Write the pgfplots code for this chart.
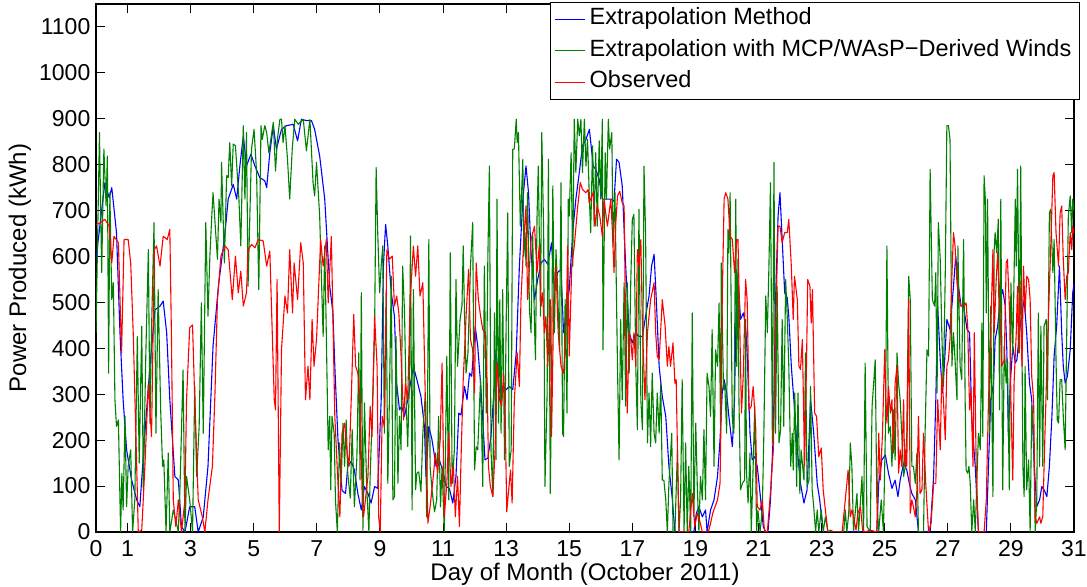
\documentclass[border=0pt]{standalone}
\usepackage{fontspec}
\setmainfont{Liberation Sans}
\usepackage{pgfplots}
\pgfplotsset{compat=1.18}
\usetikzlibrary{calc}
\definecolor{mgreen}{rgb}{0,0.5,0}

\begin{document}
\fontsize{11.5}{13.8}\selectfont
\begin{tikzpicture}
\begin{axis}[
  scale only axis, width=489pt, height=264pt,
  xmin=0, xmax=31, ymin=0, ymax=1150,
  xtick={0,1,3,...,31}, ytick={0,100,...,1100},
  scaled y ticks=false,
  /pgf/number format/1000 sep={},
  /pgf/number format/assume math mode=true,
  tick align=inside, major tick length=4.5pt,
  tick style={black, line width=0.5pt},
  axis line style={line width=0.6pt},
  ticklabel style={font=\fontsize{11.5}{13.8}\selectfont},
  label style={font=\fontsize{12}{14.4}\selectfont},
  xlabel={Day of Month (October 2011)},
  ylabel={Power Produced (kWh)},
  xlabel style={at={(axis description cs:0.5,-0.0795)}, anchor=center, inner sep=0pt},
  ylabel style={at={(axis description cs:-0.0777,0.5)}, anchor=center},
  yticklabel style={xshift=1.2pt},
  xticklabel style={inner sep=0pt, yshift=-4pt},
  legend cell align=left,
  legend style={at={(axis description cs:1.006,1.004)}, anchor=north east,
    draw=black, line width=0.5pt, fill=white, inner xsep=2pt, inner ysep=1.3pt,
    row sep=1.6pt, font=\fontsize{11.75}{14}\selectfont,
    nodes={text height=7.8pt, text depth=2.4pt, inner ysep=2pt, inner xsep=2pt}},
  legend image code/.code={\draw[#1] (0pt,0pt) -- (15pt,0pt);},
  every axis plot/.append style={line width=0.55pt, line join=round},
]
\addplot[blue] coordinates {
(0,594)(0.28,760)(0.42,728)(0.5,750)(0.65,652)(0.76,434)(0.86,288)(0.97,179)(1.13,113)(1.29,70)(1.39,55)(1.55,215)(1.71,361)(1.87,484)(2.03,492)(2.13,503)(2.24,434)(2.34,288)(2.5,121)(2.61,113)(2.71,12)(2.82,0)(2.97,55)(3.13,55)(3.24,0)(3.4,33)(3.55,143)(3.71,405)
(3.88,535)(4.09,652)(4.19,725)(4.35,757)(4.46,725)(4.56,797)(4.67,863)(4.77,797)(4.91,823)(5.04,797)(5.19,772)(5.35,765)(5.41,750)(5.51,826)(5.62,885)(5.72,834)(5.88,877)(6.04,885)(6.25,888)(6.39,852)(6.51,899)(6.67,896)(6.83,896)(6.93,877)(7.09,819)(7.25,725)(7.41,535)(7.51,477)(7.57,361)(7.67,201)
(7.8,90)(7.91,84)(7.98,143)(8.09,154)(8.19,135)(8.3,84)(8.41,48)(8.51,99)(8.62,84)(8.72,63)(8.83,99)(8.93,95)(9.04,288)(9.11,579)(9.18,670)(9.25,623)(9.36,521)(9.46,470)(9.53,324)(9.62,266)(9.69,274)(9.78,252)(9.88,288)(9.99,332)(10.06,361)(10.17,332)(10.3,295)(10.41,230)(10.46,121)(10.55,230)(10.65,201)(10.78,143)(10.88,157)(10.99,135)(11.1,99)(11.2,95)(11.31,63)(11.41,121)(11.5,259)(11.57,255)(11.68,317)
(11.76,288)(11.84,346)(11.91,339)(12.02,448)(12.1,404)(12.19,324)(12.26,244)(12.33,157)(12.42,161)(12.52,208)(12.63,324)(12.68,397)(12.79,303)(12.89,317)(13.0,310)(13.1,317)(13.21,310)(13.32,390)(13.42,579)(13.53,725)(13.63,797)(13.71,739)(13.79,608)(13.9,506)(14.0,550)(14.11,586)(14.21,594)(14.32,583)(14.44,630)(14.53,528)(14.63,565)(14.74,572)(14.82,434)(14.9,477)(15.0,528)(15.11,652)(15.21,725)(15.32,783)(15.42,841)(15.53,855)(15.64,877)
(15.76,797)(15.84,790)(15.95,768)(16.05,725)(16.21,725)(16.32,725)(16.42,720)(16.5,812)(16.58,805)(16.68,754)(16.79,579)(16.9,434)(17.0,412)(17.11,434)(17.21,426)(17.32,426)(17.42,470)(17.53,514)(17.61,579)(17.69,605)(17.76,506)(17.85,361)(17.95,295)(18.06,252)(18.16,143)(18.27,70)(18.35,0)(18.95,0)(19.03,41)(19.11,55)(19.22,33)(19.32,48)(19.37,0)(19.48,48)(19.59,70)
(19.7,121)(19.78,201)(19.85,303)(19.91,332)(19.99,303)(20.06,252)(20.17,186)(20.24,288)(20.31,565)(20.38,521)(20.43,463)(20.52,477)(20.59,448)(20.64,390)(20.73,215)(20.8,157)(20.88,164)(20.96,143)(21.07,70)(21.15,12)(21.23,0)(21.3,0)(21.38,70)(21.47,215)(21.54,506)(21.62,688)(21.68,739)(21.75,637)(21.83,521)(21.91,510)(21.96,470)(22.04,361)(22.12,288)(22.23,179)(22.33,106)(22.44,63)(22.54,92)(22.65,288)(22.75,215)(22.86,106)(22.94,70)(23.02,19)(23.07,0)
(24.75,0)(24.81,106)(24.91,157)(25.02,168)(25.12,128)(25.23,95)(25.33,113)(25.42,77)(25.49,113)(25.6,150)(25.7,135)(25.78,106)(25.86,84)(25.97,70)(26.07,0)(26.44,0)(26.55,121)(26.62,288)(26.68,492)(26.76,375)(26.83,303)(26.89,361)(26.97,463)(27.07,441)(27.18,535)(27.25,601)(27.34,535)(27.42,492)(27.5,492)
(27.61,441)(27.69,434)(27.76,244)(27.87,143)(27.97,0)(28.22,0)(28.29,143)(28.36,288)(28.45,324)(28.5,419)(28.58,448)(28.66,506)(28.74,528)(28.82,492)(28.87,397)(28.92,208)(28.98,324)(29.06,404)(29.14,368)(29.19,375)(29.27,434)(29.35,477)(29.42,506)(29.5,434)(29.59,324)(29.66,288)(29.74,143)(29.82,55)(29.91,70)(29.98,99)(30.05,92)(30.14,77)(30.22,143)(30.3,252)(30.37,383)(30.45,448)(30.54,579)(30.61,434)(30.66,361)(30.72,324)(30.79,339)(30.88,397)(30.96,521)(31,540)
};
\addlegendentry{Extrapolation Method}
\addplot[mgreen] coordinates {
(0,434)(0.11,870)(0.18,565)(0.25,834)(0.32,710)(0.36,819)(0.4,346)(0.44,739)(0.5,506)(0.55,543)(0.6,288)(0.65,230)(0.71,244)(0.78,0)(0.82,128)(0.86,48)(0.92,252)(0.97,55)(1.02,143)(1.1,179)(1.16,0)(1.23,70)(1.31,426)(1.37,150)(1.45,448)(1.5,92)(1.58,390)(1.66,615)(1.71,237)(1.76,441)(1.84,674)(1.9,215)(1.97,528)(2.05,266)(2.11,143)(2.15,157)(2.22,0)(2.29,172)(2.34,0)(2.45,48)(2.53,26)(2.61,0)(2.66,92)(2.76,353)(2.82,0)(2.87,121)(2.97,70)(3.06,0)(3.13,317)(3.19,121)(3.27,230)(3.34,499)(3.4,215)(3.48,674)(3.55,470)(3.61,601)(3.66,674)(3.71,739)
(3.85,594)(3.9,725)(3.96,674)(3.98,805)(4.07,586)(4.14,776)(4.19,772)(4.24,848)(4.3,754)(4.35,845)(4.42,841)(4.53,725)(4.59,623)(4.67,885)(4.72,725)(4.77,870)(4.82,535)(4.93,834)(5.01,877)(5.09,783)(5.16,528)(5.23,885)(5.27,855)(5.35,885)(5.41,870)(5.48,826)(5.54,855)(5.62,892)(5.69,786)(5.75,855)(5.83,899)(5.88,899)(5.93,848)(5.99,885)(6.07,812)(6.14,725)(6.22,834)(6.3,899)(6.41,888)(6.57,899)(6.67,830)(6.78,899)(6.88,761)(6.93,732)(6.99,805)(7.09,688)(7.15,543)(7.2,426)(7.25,623)(7.3,434)(7.36,179)(7.41,252)(7.44,92)(7.48,252)(7.55,215)(7.59,70)(7.65,0)
(7.72,194)(7.77,106)(7.83,237)(7.88,143)(7.93,244)(7.98,128)(8.06,74)(8.12,223)(8.19,55)(8.27,164)(8.33,390)(8.37,113)(8.41,521)(8.46,0)(8.51,281)(8.58,99)(8.65,0)(8.69,121)(8.75,244)(8.83,434)(8.88,794)(8.93,652)(8.99,521)(9.04,579)(9.09,623)(9.14,215)(9.2,521)(9.25,106)(9.3,288)(9.36,557)(9.41,70)(9.46,77)(9.51,426)(9.57,106)(9.62,252)(9.67,179)(9.72,579)(9.78,477)(9.83,288)(9.88,186)(9.93,317)(9.97,645)(10.02,48)(10.06,528)(10.13,92)(10.17,128)(10.23,131)(10.3,88)(10.36,215)(10.44,303)(10.48,33)(10.55,637)(10.59,143)(10.65,92)(10.73,44)(10.8,70)(10.86,252)(10.92,55)(10.97,143)(11.04,0)(11.12,383)(11.18,70)(11.23,608)(11.29,106)(11.36,179)(11.41,550)(11.46,361)(11.54,463)(11.6,492)(11.64,623)
(11.68,477)(11.73,346)(11.79,390)(11.87,579)(11.94,674)(12.0,135)(12.05,186)(12.1,179)(12.15,266)(12.19,332)(12.26,99)(12.31,579)(12.37,259)(12.42,594)(12.47,797)(12.52,179)(12.58,77)(12.63,477)(12.68,157)(12.71,725)(12.76,237)(12.8,506)(12.84,215)(12.89,528)(12.95,157)(13.0,448)(13.05,695)(13.1,143)(13.16,179)(13.21,834)(13.26,834)(13.32,899)(13.35,848)(13.39,870)(13.45,666)(13.53,812)(13.56,601)(13.6,652)(13.63,579)(13.68,739)(13.74,484)(13.79,434)(13.84,652)(13.9,448)(13.93,375)(13.98,688)(14.02,797)(14.09,470)(14.13,870)(14.19,652)(14.23,99)(14.3,303)(14.34,812)(14.4,84)(14.44,324)(14.48,754)(14.53,434)(14.58,615)(14.63,535)(14.69,397)(14.74,761)(14.79,215)(14.82,208)(14.87,506)(14.93,259)(14.97,725)(15.0,688)(15.06,826)(15.11,579)(15.16,899)(15.21,783)(15.27,899)(15.32,863)(15.37,899)(15.42,783)(15.48,899)(15.53,797)(15.58,855)(15.64,725)
(15.68,652)(15.74,841)(15.79,666)(15.84,826)(15.89,666)(15.95,852)(16.0,725)(16.05,899)(16.07,397)(16.14,826)(16.18,725)(16.24,899)(16.28,834)(16.35,870)(16.39,623)(16.45,739)(16.53,361)(16.58,157)(16.63,463)(16.68,288)(16.74,543)(16.79,274)(16.84,543)(16.9,346)(16.95,543)(17.0,681)(17.05,692)(17.11,361)(17.16,223)(17.21,703)(17.27,288)(17.32,223)(17.37,797)(17.42,652)(17.48,194)(17.53,303)(17.58,186)(17.63,346)(17.69,215)(17.74,194)(17.79,303)(17.85,215)(17.9,324)(17.95,113)(18.0,113)(18.06,70)(18.11,0)(18.16,106)(18.25,215)(18.29,0)(18.35,0)(18.43,179)(18.48,0)(18.53,70)(18.58,332)(18.64,0)(18.69,194)(18.74,0)(18.79,143)(18.85,0)(18.9,477)(18.95,33)(19.01,237)(19.06,99)(19.11,0)(19.16,121)(19.22,70)(19.27,223)(19.32,70)(19.37,346)(19.43,317)(19.48,252)(19.53,441)(19.59,143)
(19.64,397)(19.7,361)(19.75,499)(19.8,215)(19.82,586)(19.89,310)(19.93,324)(19.99,215)(20.03,659)(20.06,608)(20.1,739)(20.14,434)(20.17,244)(20.22,215)(20.28,725)(20.31,361)(20.35,594)(20.38,288)(20.43,92)(20.49,106)(20.56,113)(20.59,463)(20.62,128)(20.67,63)(20.73,172)(20.77,0)(20.83,143)(20.88,274)(20.94,0)(20.98,48)(21.05,0)(21.12,48)(21.17,215)(21.23,514)(21.28,434)(21.33,579)(21.38,761)(21.44,194)(21.49,805)(21.54,215)(21.59,535)(21.65,194)(21.7,223)(21.75,463)(21.8,230)(21.86,550)(21.91,470)(21.96,361)(22.02,143)(22.07,215)(22.1,135)(22.15,303)(22.21,99)(22.25,303)(22.31,84)(22.35,179)(22.44,113)(22.49,390)(22.54,99)(22.6,113)(22.65,317)(22.7,92)(22.75,55)(22.81,0)(22.86,48)(22.91,0)(22.99,48)(23.05,0)(23.12,33)(23.2,0)(23.28,4)(23.39,0)(23.7,0)
(23.75,48)(23.8,0)(23.86,41)(23.91,194)(23.96,143)(24.01,0)(24.12,84)(24.17,0)(24.28,121)(24.33,0)(24.38,368)(24.44,12)(24.54,0)(24.6,274)(24.7,375)(24.75,70)(24.81,0)(24.89,70)(24.96,0)(25.02,215)(25.07,623)(25.12,215)(25.18,230)(25.23,143)(25.28,266)(25.33,157)(25.39,390)(25.44,324)(25.49,288)(25.54,215)(25.6,121)(25.65,143)(25.7,215)(25.76,557)(25.81,506)(25.86,143)(25.91,143)(25.97,106)(26.02,172)(26.07,0)(26.23,0)(26.28,215)(26.34,397)(26.39,383)(26.44,790)(26.51,506)(26.58,492)(26.62,565)(26.66,303)(26.7,674)(26.76,594)(26.81,434)(26.86,317)(26.92,565)(26.97,885)(27.02,885)(27.07,855)(27.13,361)(27.18,434)(27.23,375)(27.29,288)(27.32,623)(27.39,361)(27.44,332)
(27.5,637)(27.55,288)(27.58,135)(27.63,128)(27.67,143)(27.71,106)(27.76,0)(27.82,70)(27.87,0)(27.97,215)(28.03,179)(28.08,455)(28.11,208)(28.15,776)(28.19,725)(28.22,477)(28.26,725)(28.32,215)(28.36,492)(28.43,77)(28.47,615)(28.5,652)(28.55,608)(28.6,681)(28.64,266)(28.68,725)(28.74,92)(28.79,404)(28.85,324)(28.89,375)(28.95,92)(29.0,543)(29.06,390)(29.14,725)(29.17,579)(29.21,790)(29.27,390)(29.31,797)(29.38,143)(29.42,77)(29.45,361)(29.5,92)(29.56,157)(29.61,0)(29.66,274)(29.72,215)(29.77,0)(29.82,70)(29.87,477)(29.91,143)(29.95,448)(30.01,143)(30.05,448)(30.12,463)(30.16,288)(30.22,695)(30.26,703)(30.33,565)(30.37,637)(30.43,375)(30.47,244)(30.51,237)(30.56,332)(30.61,332)(30.66,252)(30.72,179)(30.77,434)(30.82,688)(30.88,732)(30.93,652)(30.96,725)(31,700)
};
\addlegendentry{Extrapolation with MCP/WAsP−Derived Winds}
\addplot[red] coordinates {
(0,670)(0.13,673)(0.28,681)(0.42,666)(0.5,586)(0.57,644)(0.71,630)(0.81,390)(0.89,637)(1.02,637)(1.1,586)(1.18,434)(1.29,143)(1.34,0)(1.45,4)(1.55,143)(1.66,324)(1.76,208)(1.85,615)(1.92,623)(2.03,579)(2.13,644)(2.26,637)(2.34,659)(2.39,434)(2.45,70)(2.53,12)(2.61,70)(2.71,0)(2.82,70)(2.87,288)(2.97,445)(3.06,451)(3.13,288)(3.24,70)(3.37,33)(3.45,0)(3.55,70)(3.69,143)(3.77,300)
(3.85,506)(3.96,601)(4.09,623)(4.19,615)(4.32,506)(4.42,601)(4.51,521)(4.59,568)(4.67,492)(4.77,521)(4.82,615)(4.93,626)(5.04,619)(5.14,637)(5.3,634)(5.41,579)(5.51,612)(5.65,288)(5.69,266)(5.74,550)(5.81,0)(5.88,397)(5.99,514)(6.07,477)(6.14,615)(6.23,477)(6.28,586)(6.39,506)(6.49,630)(6.57,586)(6.64,288)(6.72,361)(6.78,288)(6.85,463)(6.91,361)(6.99,419)(7.12,637)(7.2,579)(7.3,637)(7.36,499)(7.46,644)(7.57,252)(7.67,106)(7.73,33)
(7.8,215)(7.88,237)(7.95,179)(8.02,143)(8.09,288)(8.17,474)(8.23,361)(8.3,346)(8.37,288)(8.44,70)(8.48,33)(8.54,70)(8.62,121)(8.69,274)(8.75,208)(8.83,470)(8.91,361)(8.96,33)(9.01,0)(9.07,252)(9.14,230)(9.22,615)(9.3,594)(9.39,601)(9.46,492)(9.53,514)(9.6,477)(9.67,383)(9.75,244)(9.81,324)(9.88,288)(9.96,506)(10.06,623)(10.13,557)(10.2,623)(10.27,514)(10.36,543)(10.44,288)(10.52,19)(10.59,55)(10.67,106)(10.76,172)(10.83,128)(10.91,201)(10.97,368)(11.04,33)(11.12,106)(11.18,215)(11.25,99)(11.33,143)(11.39,33)(11.46,121)(11.52,12)(11.57,157)(11.64,332)
(11.68,390)(11.73,470)(11.81,572)(11.87,419)(11.94,397)(12.0,303)(12.05,586)(12.12,506)(12.19,470)(12.26,441)(12.33,434)(12.4,324)(12.44,143)(12.5,99)(12.58,77)(12.65,179)(12.71,368)(12.79,288)(12.86,274)(12.92,346)(12.97,252)(13.02,44)(13.07,84)(13.14,135)(13.19,63)(13.26,288)(13.35,390)(13.42,317)(13.47,506)(13.56,637)(13.63,710)(13.68,506)(13.79,637)(13.9,666)(13.98,565)(14.05,623)(14.11,492)(14.16,521)(14.21,434)(14.26,470)(14.32,361)(14.4,506)(14.44,208)(14.51,506)(14.58,579)(14.65,434)(14.74,361)(14.82,346)(14.9,434)(14.95,623)(15.0,383)(15.08,579)(15.16,623)(15.27,710)(15.35,761)(15.42,746)(15.53,739)(15.6,746)
(15.63,717)(15.76,739)(15.82,666)(15.89,710)(15.97,688)(16.05,644)(16.1,725)(16.21,666)(16.32,725)(16.37,652)(16.42,565)(16.47,666)(16.53,732)(16.6,742)(16.68,717)(16.74,710)(16.79,434)(16.84,259)(16.9,434)(16.95,419)(17.0,375)(17.05,434)(17.11,361)(17.16,615)(17.21,579)(17.27,637)(17.32,448)(17.4,288)(17.48,434)(17.58,506)(17.69,543)(17.74,434)(17.79,383)(17.85,375)(17.95,506)(18.04,448)(18.11,361)(18.16,404)(18.21,361)(18.29,412)(18.35,324)(18.39,332)(18.44,143)(18.48,0)(18.79,0)(18.9,84)(18.98,12)(19.06,41)(19.13,26)(19.22,0)(19.41,0)(19.48,19)(19.55,41)
(19.7,70)(19.78,106)(19.82,288)(19.85,506)(19.91,725)(19.96,739)(20.03,725)(20.1,644)(20.17,637)(20.24,565)(20.31,637)(20.35,637)(20.41,434)(20.46,259)(20.52,346)(20.59,550)(20.64,506)(20.7,266)(20.77,274)(20.83,317)(20.91,230)(20.96,55)(21.05,48)(21.12,70)(21.19,0)(21.28,0)(21.36,70)(21.47,179)(21.54,434)(21.62,666)(21.68,666)(21.75,630)(21.83,652)(21.91,652)(21.96,681)(22.04,579)(22.1,463)(22.14,557)(22.23,506)(22.28,361)(22.33,354)(22.39,419)(22.46,143)(22.52,361)(22.56,550)(22.63,535)(22.67,455)(22.71,528)(22.78,259)(22.84,252)(22.91,164)(22.99,183)(23.05,92)(23.12,48)(23.2,0)(23.65,0)
(23.75,70)(23.84,135)(23.91,33)(23.96,48)(24.01,33)(24.09,4)(24.15,41)(24.23,55)(24.3,4)(24.38,0)(24.54,4)(24.75,0)(24.81,215)(24.86,113)(24.93,215)(25.0,397)(25.04,288)(25.07,237)(25.12,317)(25.18,259)(25.23,288)(25.28,172)(25.33,324)(25.39,361)(25.44,128)(25.49,179)(25.54,143)(25.6,288)(25.63,143)(25.67,179)(25.7,143)(25.76,506)(25.81,41)(25.86,70)(25.91,55)(25.97,33)(26.02,92)(26.07,252)(26.12,84)(26.18,92)(26.23,215)(26.3,106)(26.39,0)(26.47,19)(26.55,106)(26.62,106)(26.68,288)(26.76,179)(26.81,346)(26.86,288)(26.92,201)(26.97,361)(27.02,375)(27.07,419)(27.13,557)(27.18,652)(27.23,623)(27.29,543)(27.36,506)(27.42,492)(27.5,492)
(27.58,499)(27.63,448)(27.69,266)(27.73,310)(27.8,143)(27.84,434)(27.9,143)(27.97,0)(28.15,0)(28.22,70)(28.29,288)(28.36,434)(28.43,615)(28.47,434)(28.53,543)(28.58,608)(28.64,506)(28.71,361)(28.79,375)(28.85,586)(28.89,594)(28.96,477)(29.0,288)(29.06,113)(29.1,324)(29.17,434)(29.21,535)(29.24,390)(29.29,546)(29.35,361)(29.4,579)(29.45,477)(29.5,557)(29.56,550)(29.61,506)(29.66,339)(29.72,288)(29.77,33)(29.82,19)(29.91,33)(29.95,19)(30.01,33)(30.08,215)(30.14,361)(30.19,470)(30.26,615)(30.33,776)(30.37,783)(30.43,652)(30.51,579)(30.56,695)(30.61,710)(30.66,594)(30.72,506)(30.77,557)(30.82,565)(30.88,652)(30.93,615)(30.96,666)(31,650)
};
\addlegendentry{Observed}
\coordinate (sw) at (rel axis cs:0,0);
\coordinate (ne) at (rel axis cs:1,1);
\end{axis}
\pgfresetboundingbox
\path ($(sw)+(-48pt,-27.5pt)$) rectangle ($(ne)+(6.5pt,2pt)$);
\end{tikzpicture}
\end{document}
